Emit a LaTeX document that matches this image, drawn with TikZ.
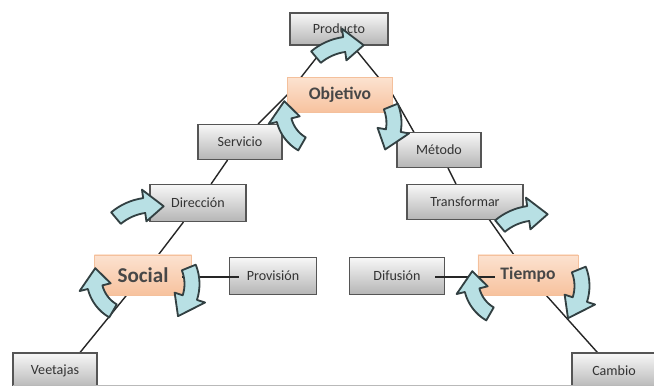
\documentclass[tikz,border=0pt]{standalone}
\usepackage{fontspec}
\setmainfont{Carlito}
\usetikzlibrary{calc,backgrounds}
\definecolor{boxline}{RGB}{85,85,85}
\definecolor{peachtop}{RGB}{252,226,208}
\definecolor{peachbot}{RGB}{247,194,158}
\definecolor{peachline}{RGB}{244,192,156}
\definecolor{aqua}{RGB}{184,224,228}
\definecolor{aqualine}{RGB}{50,64,66}

\begin{document}
\begin{tikzpicture}[x=0.025cm,y=0.025cm,
greybox/.style={draw=boxline,line width=0.8pt,rectangle,inner sep=2pt,top color=gray!6,bottom color=gray!58,
minimum height=0.875cm,text=black!80,font=\fontsize{10}{12}\selectfont},
keybox/.style={draw=peachline,line width=0.5pt,rectangle,inner sep=2pt,top color=peachtop,bottom color=peachbot,
minimum height=1cm,text=black!72,font=\bfseries\fontsize{12.5}{15}\selectfont},
link/.style={line width=1pt,black!85},
bentarrow/.style={fill=aqua,draw=aqualine,line width=1.3pt,line join=round}]
\useasboundingbox (0,0) rectangle (654,386);
\draw (339,357) node[greybox,minimum width=2.45cm,minimum height=0.8cm] (prod) {Producto};
\draw (340,291) node[keybox,minimum width=2.625cm,minimum height=0.875cm] (obj) {Objetivo};
\draw (240,244) node[greybox,minimum width=2.1cm] (serv) {Servicio};
\draw (439,236) node[greybox,minimum width=2.1cm] (met) {Método};
\draw (198,183) node[greybox,minimum width=2.4cm,minimum height=0.925cm] (dir) {Dirección};
\draw (465,184) node[greybox,minimum width=2.9cm] (trans) {Transformar};
\draw (143,111) node[keybox,minimum width=2.425cm,font=\bfseries\fontsize{15}{18}\selectfont] (soc) {Social};
\draw (273,110) node[greybox,minimum width=2.175cm,minimum height=0.925cm] (prov) {Provisión};
\draw (397,110) node[greybox,minimum width=2.375cm,minimum height=0.925cm] (dif) {Difusión};
\draw (528,111) node[keybox,minimum width=2.5cm] (tiem) {Tiempo};
\draw (55,15) node[greybox,minimum width=2.1cm,minimum height=0.9cm] (vent) {Veetajas};
\draw (614,15) node[greybox,minimum width=2.1cm,minimum height=0.9cm] (camb) {Cambio};
\draw[gray!55,line width=0.6pt] (13,1) -- (654,1);

\begin{scope}[on background layer]
\draw[link] (prod) -- (obj.west) -- (serv) -- (dir) -- (soc) -- ($(vent)+(10,0)$);
\draw[link] (prod) -- (obj.east) -- ($(met)+(-15,0)$);
\draw[link] (met) -- (trans);
\draw[link] ($(trans)+(12,0)$) -- (tiem) -- (camb);
\end{scope}
\draw[link] ($(prov.west)+(10,-1)$) -- ($(soc.east)+(-10,-2)$);
\draw[link] ($(dif.east)+(-10,-1)$) -- ($(tiem.west)+(17,-2)$);

% curved block arrows: centre / radius / tail / head base / tip
\foreach \cx/\cy/\r/\ts/\tb/\te in {352/286/56/130/98/78, 152/125/56/130/98/78, 536/117/56/130/98/78,
  321/275/38/240/194/165, 132/108/38/240/194/165, 509/105/38/240/194/165,
  350/263/44/22/-10/-37, 148/102/44/22/-18/-47, 538/100/44/22/-18/-47}
{
\pgfmathsetmacro{\ro}{\r+7.5}
\pgfmathsetmacro{\ri}{\r-7.5}
\pgfmathsetmacro{\rh}{\r+16}
\pgfmathsetmacro{\rl}{\r-16}
\draw[bentarrow] ($(\cx,\cy)+(\ts:\ro)$) arc[start angle=\ts,end angle=\tb,radius=\ro]
  -- ($(\cx,\cy)+(\tb:\rh)$) -- ($(\cx,\cy)+(\te:\r)$) -- ($(\cx,\cy)+(\tb:\rl)$)
  -- ($(\cx,\cy)+(\tb:\ri)$) arc[start angle=\tb,end angle=\ts,radius=\ri] -- cycle;
}
\end{tikzpicture}
\end{document}
